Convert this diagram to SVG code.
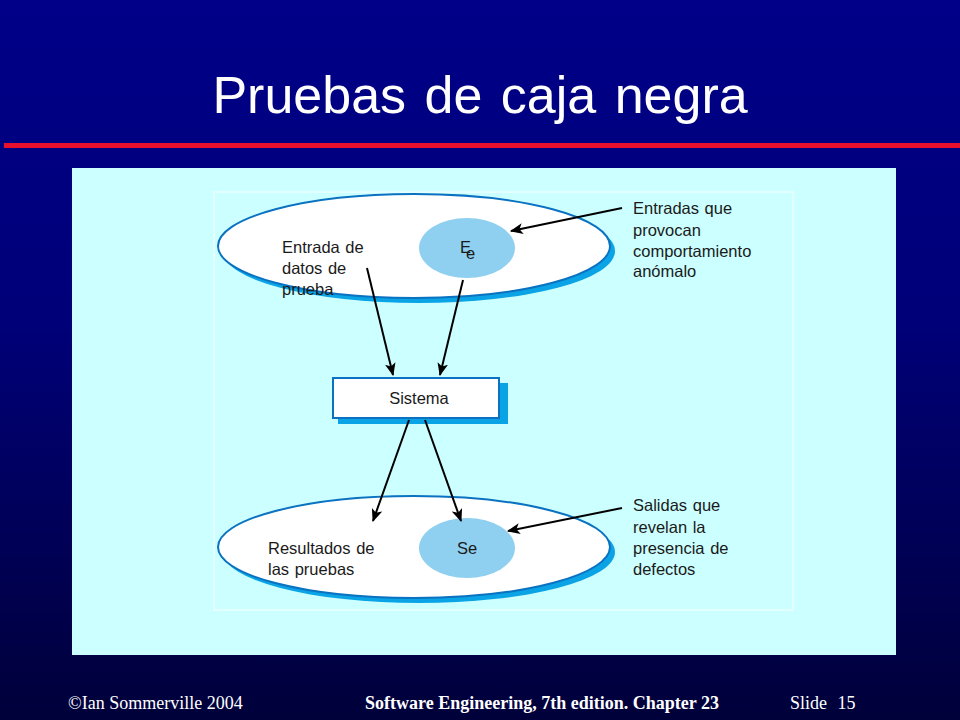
<svg xmlns="http://www.w3.org/2000/svg" width="960" height="720" viewBox="0 0 960 720">
<defs>
<linearGradient id="bg" x1="0" y1="0" x2="0" y2="1">
<stop offset="0" stop-color="#000088"/>
<stop offset="0.45" stop-color="#000078"/>
<stop offset="1" stop-color="#00003a"/>
</linearGradient>
<marker id="ah" viewBox="0 0 12 10" refX="11" refY="5" markerWidth="13" markerHeight="11" markerUnits="userSpaceOnUse" orient="auto">
<path d="M0,0 L12,5 L0,10 L3,5 z" fill="#000"/>
</marker>
<style>
.lbl{font-family:"Liberation Sans",Arial,sans-serif;font-size:16.5px;fill:#1a1a1a;word-spacing:1px}
.foot{font-family:"Liberation Serif","Times New Roman",serif;font-size:18px;fill:#fff}
.outer{fill:#fff;stroke:#0a72c0;stroke-width:2}
.shadow{fill:#0aa4e6}
.inner{fill:#8fd0f0}
.arr{stroke:#000;stroke-width:2;fill:none;marker-end:url(#ah)}
</style>
</defs>
<rect x="0" y="0" width="960" height="720" fill="url(#bg)"/>
<rect x="4" y="143" width="956" height="5" fill="#e8102e"/>
<text x="480" y="113" text-anchor="middle" font-family="Liberation Sans,Arial,sans-serif" font-size="52" fill="#fff" word-spacing="4">Pruebas de caja negra</text>
<rect x="72" y="168" width="824" height="487" fill="#ccffff"/>
<rect x="214" y="192" width="579" height="418" fill="none" stroke="#eaffff" stroke-width="1.5"/>

<g id="entradas">
<ellipse class="shadow" cx="419" cy="251" rx="196" ry="52"/>
<ellipse class="outer" cx="414" cy="246" rx="196" ry="52"/>
<text class="lbl" x="282" y="253">Entrada de</text>
<text class="lbl" x="282" y="274">datos de</text>
<text class="lbl" x="282" y="295">prueba</text>
</g>
<g id="Ee">
<ellipse class="inner" cx="467" cy="248" rx="48" ry="30"/>
<text class="lbl" x="460" y="253">E<tspan dx="-5" dy="6">e</tspan></text>
</g>
<g id="sistema">
<rect x="338" y="383" width="170" height="41" class="shadow"/>
<rect x="333" y="378" width="166" height="40" fill="#fff" stroke="#0a72c0" stroke-width="2"/>
<text class="lbl" x="419" y="404" text-anchor="middle">Sistema</text>
</g>
<g id="salidas">
<ellipse class="shadow" cx="419" cy="552" rx="196" ry="51"/>
<ellipse class="outer" cx="414" cy="547" rx="196" ry="51"/>
<text class="lbl" x="268" y="554">Resultados de</text>
<text class="lbl" x="268" y="575">las pruebas</text>
</g>
<g id="Se">
<ellipse class="inner" cx="467" cy="548" rx="48" ry="30"/>
<text class="lbl" x="467" y="554" text-anchor="middle">Se</text>
</g>
<g id="label-entradas">
<text class="lbl" x="633" y="214">Entradas que</text>
<text class="lbl" x="633" y="236">provocan</text>
<text class="lbl" x="633" y="257">comportamiento</text>
<text class="lbl" x="633" y="277">anómalo</text>
</g>
<g id="label-salidas">
<text class="lbl" x="633" y="511">Salidas que</text>
<text class="lbl" x="633" y="533">revelan la</text>
<text class="lbl" x="633" y="554">presencia de</text>
<text class="lbl" x="633" y="575">defectos</text>
</g>
<g id="connectors">
<line class="arr" x1="622" y1="208" x2="511" y2="231"/>
<line class="arr" x1="367" y1="268" x2="393" y2="375"/>
<line class="arr" x1="463" y1="280" x2="440" y2="375"/>
<line class="arr" x1="409" y1="420" x2="373" y2="521"/>
<line class="arr" x1="425" y1="420" x2="461" y2="521"/>
<line class="arr" x1="622" y1="508" x2="508" y2="531"/>
</g>
<text class="foot" x="68" y="709">©Ian Sommerville 2004</text>
<text class="foot" x="542" y="709" text-anchor="middle" font-weight="bold">Software Engineering, 7th edition. Chapter 23</text>
<text class="foot" x="790" y="709" word-spacing="6">Slide 15</text>
</svg>
